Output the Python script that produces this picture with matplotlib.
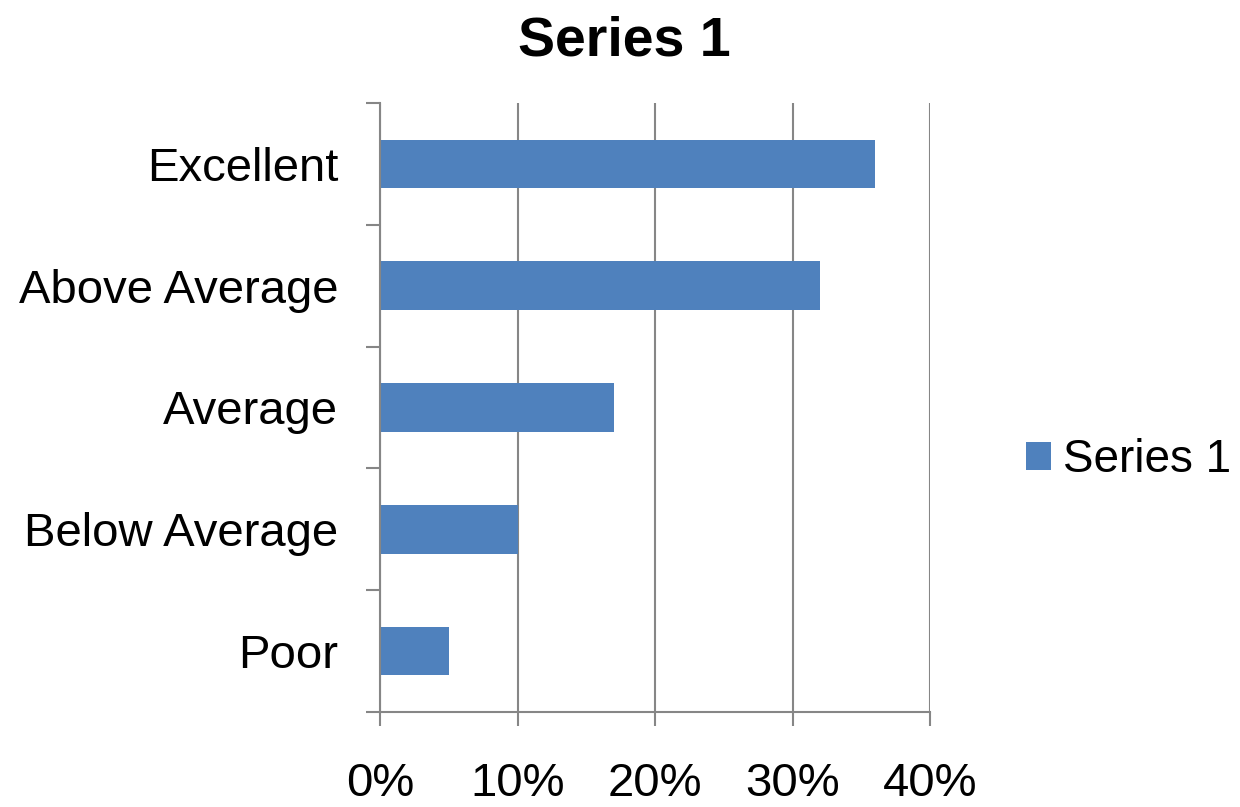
import matplotlib
matplotlib.use("Agg")
import matplotlib.pyplot as plt
from matplotlib.patches import Patch
from matplotlib.ticker import FixedLocator

categories = ["Poor", "Below Average", "Average", "Above Average", "Excellent"]
values = [5, 10, 17, 32, 36]
xticks = [0, 10, 20, 30, 40]
xtick_labels = ["0%", "10%", "20%", "30%", "40%"]
series_name = "Series 1"

plt.rcParams['font.family'] = ['Liberation Sans', 'DejaVu Sans']

fig = plt.figure(figsize=(12.4, 8.07), dpi=100)
ax = fig.add_axes([380/1240, 1-712/807, 550/1240, 609/807])

bar_color = "#4F81BD"
grid_color = "#868686"
ypos = list(range(len(categories)))
ax.barh(ypos, values, height=0.4, color=bar_color, zorder=3)

ax.set_xlim(0, 40)
ax.set_ylim(-0.5, len(categories) - 0.5)

ax.set_xticks(xticks)
ax.set_xticklabels(xtick_labels, fontsize=34)
ax.set_yticks(ypos)
ax.set_yticklabels(categories, fontsize=34)
ax.yaxis.set_minor_locator(FixedLocator([i - 0.5 for i in range(len(categories) + 1)]))

ax.tick_params(axis='y', which='major', length=0, pad=30)
ax.tick_params(axis='y', which='minor', length=10, width=1.5, color=grid_color)
ax.tick_params(axis='x', which='major', length=10, width=1.5, color=grid_color, pad=26)

ax.grid(axis='x', color=grid_color, linewidth=1.5, zorder=0)
for s in ['top', 'right']:
    ax.spines[s].set_visible(False)
for s in ['left', 'bottom']:
    ax.spines[s].set_color(grid_color)
    ax.spines[s].set_linewidth(1.5)
    ax.spines[s].set_zorder(4)

fig.text(624/1240, 1-41/807, series_name, ha='center', va='center', fontsize=40, fontweight='bold')

handle = Patch(facecolor=bar_color, edgecolor='none')
fig.legend([handle], [series_name], loc='center left', bbox_to_anchor=(1026/1240, 1-460/807),
           fontsize=33, frameon=False, handlelength=0.55, handleheight=0.55,
           handletextpad=0.26, borderaxespad=0, borderpad=0)

fig.savefig("out.png", dpi=100)
